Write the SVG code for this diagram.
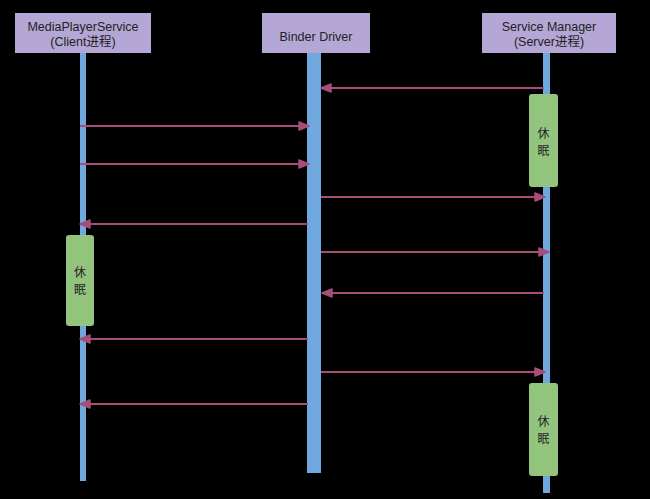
<svg xmlns="http://www.w3.org/2000/svg" width="650" height="499" viewBox="0 0 650 499">
<style>
.hdr{fill:#b4a7d6}
.life{fill:#6fa8dc}
.sleep{fill:#93c47d}
.t{font-family:"Liberation Sans",Arial,"Noto Sans CJK SC",sans-serif;font-size:12.5px;fill:#222;text-anchor:middle}
.ts{font-family:"Noto Sans CJK SC","Liberation Sans",sans-serif;font-size:12px;fill:#222;text-anchor:middle}
.msg{stroke:#a64d79;stroke-width:2.2;fill:none;marker-end:url(#ah)}
</style>
<defs>
<marker id="ah" markerUnits="userSpaceOnUse" markerWidth="12" markerHeight="10" refX="11" refY="5" orient="auto">
<path d="M1,1 L11,5 L1,9 Z" fill="#a64d79" stroke="#a64d79" stroke-width="1.5" stroke-linejoin="round"/>
</marker>
</defs>
<rect x="0" y="0" width="650" height="499" fill="#000"/>
<g id="client">
<rect class="hdr" x="15" y="13" width="136" height="40"/>
<text class="t" x="83" y="31">MediaPlayerService</text>
<text class="t" x="83" y="46">(Client进程)</text>
<rect class="life" x="80" y="53" width="6" height="428"/>
</g>
<g id="binder">
<rect class="hdr" x="262" y="13" width="108" height="40"/>
<text class="t" x="316" y="41">Binder Driver</text>
<rect class="life" x="307" y="53" width="14" height="420"/>
</g>
<g id="server">
<rect class="hdr" x="482" y="13" width="134" height="40"/>
<text class="t" x="549" y="31">Service Manager</text>
<text class="t" x="549" y="46">(Server进程)</text>
<rect class="life" x="543" y="53" width="7" height="440"/>
</g>
<g id="sleep1">
<rect class="sleep" x="529" y="94" width="29" height="93" rx="3"/>
<text class="ts" x="543.5" y="138">休</text>
<text class="ts" x="543.5" y="155">眠</text>
</g>
<g id="sleep2">
<rect class="sleep" x="66" y="235" width="28" height="91" rx="3"/>
<text class="ts" x="80" y="277">休</text>
<text class="ts" x="80" y="294">眠</text>
</g>
<g id="sleep3">
<rect class="sleep" x="529" y="383" width="29" height="93" rx="3"/>
<text class="ts" x="543.5" y="426">休</text>
<text class="ts" x="543.5" y="443">眠</text>
</g>
<g id="connectors">
<line class="msg" x1="544" y1="88" x2="321" y2="88"/>
<line class="msg" x1="80" y1="126" x2="309" y2="126"/>
<line class="msg" x1="80" y1="164" x2="309" y2="164"/>
<line class="msg" x1="321" y1="197" x2="545" y2="197"/>
<line class="msg" x1="308" y1="224" x2="80" y2="224"/>
<line class="msg" x1="321" y1="252" x2="549" y2="252"/>
<line class="msg" x1="544" y1="293" x2="322" y2="293"/>
<line class="msg" x1="308" y1="339" x2="80" y2="339"/>
<line class="msg" x1="321" y1="372" x2="545" y2="372"/>
<line class="msg" x1="308" y1="404" x2="80" y2="404"/>
</g>
</svg>
